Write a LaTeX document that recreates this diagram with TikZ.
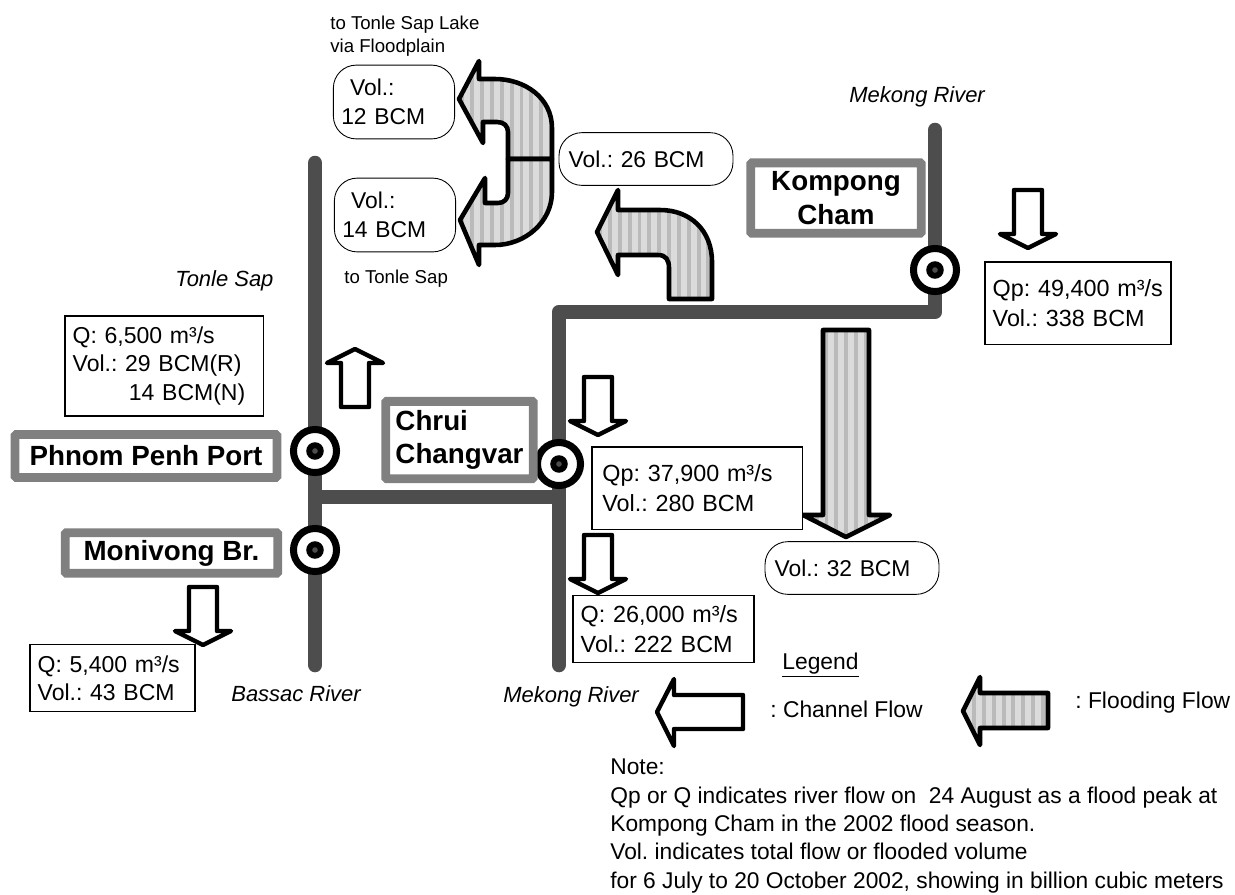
\documentclass[tikz,border=0pt]{standalone}
\usepackage{fontspec}
\setmainfont{Liberation Sans}
\usetikzlibrary{patterns.meta}
\definecolor{riverc}{RGB}{77,77,77}
\definecolor{framec}{RGB}{128,128,128}
\tikzset{
  river/.style={draw=riverc, line width=8.3pt},
  station/.style={circle, draw=black, line width=4pt, fill=white, minimum size=24.5pt, inner sep=0pt,
    path picture={\fill[black] (path picture bounding box.center) circle (5pt);
      \fill[riverc] (path picture bounding box.center) circle (1.6pt);}},
  placebox/.style={draw=framec, line width=5pt, rounded corners=0.6pt, fill=white, align=center, font=\fontsize{15.8}{19}\selectfont\bfseries, inner sep=0pt},
  infobox/.style={draw=black, line width=0.9pt, fill=white, align=left, anchor=west, font=\fontsize{13.3}{17}\selectfont, inner sep=0pt},
  volpill/.style={draw=black, line width=0.5pt, rounded corners=13pt, fill=white, align=left, font=\fontsize{13}{16.5}\selectfont, inner sep=0pt},
  chanflow/.style={draw=black, line width=2.5pt, line join=round, fill=white},
  floodflow/.style={draw=black, line width=2.6pt, line join=round, preaction={fill=black!14},
    pattern={Lines[angle=90,distance=5.6pt,line width=2.2pt]}, pattern color=black!27},
  txt/.style={anchor=west, inner sep=0pt, font=\fontsize{13}{13}\selectfont},
  small/.style={anchor=west, inner sep=0pt, align=left, font=\fontsize{10.6}{13}\selectfont},
  pics/chandown/.style={code={\draw[chanflow] (-14,0) -- (14,0) -- (14,44) -- (28,44) -- (0,58) -- (-28,44) -- (-14,44) -- cycle;}},
}
\begin{document}
\frenchspacing
\begin{tikzpicture}[x=0.02cm, y=-0.02cm]
  \useasboundingbox (0,0) rectangle (1235,894);
  % rivers
  \coordinate (bassacN) at (315,163);
  \coordinate (bassacS) at (315,665);
  \coordinate (joinW) at (315,497);
  \coordinate (joinE) at (559,497);
  \coordinate (mekongS) at (559,665);
  \coordinate (bendW) at (559,312);
  \coordinate (bendE) at (935,312);
  \coordinate (mekongN) at (935,130);
  \draw[river, line cap=round] (bassacN) -- (bassacS);
  \draw[river] (joinW) -- (joinE);
  \draw[river, line cap=round, line join=round] (mekongS) -- (bendW) -- (bendE) -- (mekongN);
  % channel flows
  \path (1028,190) pic {chandown};
  \path (598,377) pic {chandown};
  \path (598,535) pic {chandown};
  \path (203,587) pic {chandown};
  \path (355,407) pic[yscale=-1] {chandown};
  \draw[chanflow] (743,695) -- (674,695) -- (674,679) -- (657,712) -- (674,746) -- (674,729) -- (743,729) -- cycle;
  % flooding flows
  \draw[floodflow] (1048,693) -- (980,693) -- (980,677) -- (963,711) -- (980,745) -- (980,728) -- (1048,728) -- cycle;
  \draw[floodflow] (823,330) -- (869,330) -- (869,515) -- (890,515) -- (846,537) -- (803,515) -- (823,515) -- cycle;
  \draw[floodflow] (712,299) -- (712,262) .. controls (712,230) and (690,210) .. (660,210) -- (618,210) -- (618,190)
    -- (597,232) -- (618,275) -- (618,255) -- (658,255) .. controls (666,255) and (669,260) .. (669,268) -- (669,299) -- cycle;
  \draw[floodflow] (552,159) -- (552,128) .. controls (552,98) and (525,79) .. (495,79) -- (479,79) -- (479,61)
    -- (459,99) -- (483,143) -- (483,122) -- (497,122) .. controls (504,122) and (508,126) .. (508,132) -- (508,159) -- cycle;
  \draw[floodflow] (552,159) -- (552,192) .. controls (552,222) and (525,245) .. (495,245) -- (479,245) -- (479,265)
    -- (460,220) -- (485,178) -- (485,203) -- (498,203) .. controls (504,203) and (508,199) .. (508,193) -- (508,159) -- cycle;
  % stations
  \node[station] (phnom) at (315,451) {};
  \node[station] (monivong) at (315,550) {};
  \node[station] (chrui) at (559,464) {};
  \node[station] (kompong) at (935,270) {};
  % place names
  \node[placebox, minimum width=149pt, minimum height=24.4pt] (phnomlbl) at (146,456) {Phnom Penh Port};
  \node[placebox, minimum width=121pt, minimum height=23pt] (monivonglbl) at (171.5,553) {Monivong Br.};
  \node[placebox, minimum width=84pt, minimum height=44pt, align=left] (chruilbl) at (459.5,440) {Chrui\\Changvar};
  \node[placebox, minimum width=97pt, minimum height=40pt] (kompongbl) at (836,198) {Kompong\\Cham};
  % discharge boxes
  \node[infobox, font=\fontsize{13.1}{16}\selectfont, minimum width=113pt, minimum height=57pt, text width=104pt, inner xsep=4.5pt] (qphnom) at (64,366) {Q: 6,500 m³/s\\Vol.: 29 BCM(R)\\\hspace*{32pt}14 BCM(N)};
  \node[infobox, font=\fontsize{13.1}{16}\selectfont, minimum width=94pt, minimum height=38pt, text width=85pt, inner xsep=4.5pt] (qmonivong) at (29,678) {Q: 5,400 m³/s\\Vol.: 43 BCM};
  \node[infobox, minimum width=120pt, minimum height=47pt, text width=108pt, inner xsep=6pt] (qchrui) at (591,488) {Qp: 37,900 m³/s\\Vol.: 280 BCM};
  \node[infobox, minimum width=103pt, minimum height=38pt, text width=94pt, inner xsep=4.5pt] (qlower) at (572,629) {Q: 26,000 m³/s\\Vol.: 222 BCM};
  \node[infobox, minimum width=106pt, minimum height=47pt, text width=97pt, inner xsep=4.5pt] (qkompong) at (984,303) {Qp: 49,400 m³/s\\Vol.: 338 BCM};
  % volumes
  \node[volpill, minimum width=69pt, minimum height=42pt, text width=60pt] (vol12) at (394,102) {\hspace*{5pt}Vol.:\\12 BCM};
  \node[volpill, minimum width=69pt, minimum height=42pt, text width=60pt] (vol14) at (395,215) {\hspace*{5pt}Vol.:\\14 BCM};
  \node[volpill, minimum width=99pt, minimum height=30pt, text width=88pt] (vol26) at (646,159) {Vol.: 26 BCM};
  \node[volpill, minimum width=99pt, minimum height=30pt, text width=88pt] (vol32) at (852,568) {Vol.: 32 BCM};
  % texts
  \node[small] (tolake) at (330,36) {to Tonle Sap Lake\\via Floodplain};
  \node[small] (tosap) at (344,279) {to Tonle Sap};
  \node[txt, font=\fontsize{12.5}{13}\selectfont\itshape] (mekongup) at (849,97) {Mekong River};
  \node[txt, font=\fontsize{12.5}{13}\selectfont\itshape] (tonle) at (175,281) {Tonle Sap};
  \node[txt, font=\fontsize{12.5}{13}\selectfont\itshape] (bassac) at (231,694) {Bassac River};
  \node[txt, font=\fontsize{12.5}{13}\selectfont\itshape] (mekonglow) at (503,697) {Mekong River};
  \node[txt] (legend) at (782,665) {\underline{Legend}};
  \node[txt] (chanlbl) at (770,709) {: Channel Flow};
  \node[txt] (floodlbl) at (1075,703) {: Flooding Flow};
  \node[txt, align=left, font=\fontsize{12.95}{16.2}\selectfont] (note) at (610,826) {Note:\\Qp or Q indicates river flow on\ \ 24 August as a flood peak at\\Kompong Cham in the 2002 flood season.\\Vol. indicates total flow or flooded volume\\for 6 July to 20 October 2002, showing in billion cubic meters};
\end{tikzpicture}
\end{document}
